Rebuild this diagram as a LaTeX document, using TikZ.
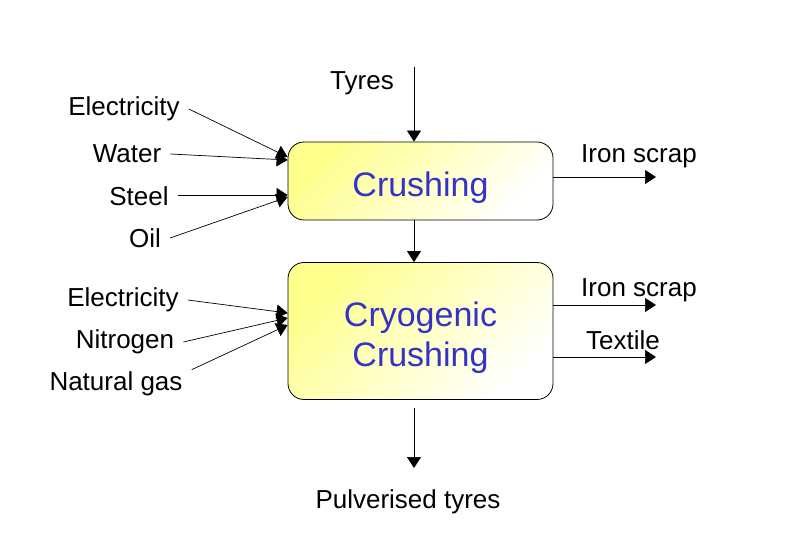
\documentclass[tikz,border=0pt]{standalone}
\usepackage{fontspec}
\setmainfont{Liberation Sans}
\usetikzlibrary{arrows.meta}

\definecolor{boxyellow}{RGB}{255,255,140}
\definecolor{textblue}{RGB}{51,51,204}

\tikzset{
    process/.style={draw, line width=0.8pt, rounded corners=16pt,
        top color=boxyellow, bottom color=white, shading angle=45,
        text=textblue, font=\fontsize{34}{40}\selectfont, align=center,
        minimum width=265pt, inner sep=0pt, text depth=0pt},
    flow/.style={-{Triangle[length=11pt,width=14pt]}, line width=0.7pt},
    lbl/.style={font=\fontsize{26}{30}\selectfont, inner sep=2pt},
    inlbl/.style={lbl, inner xsep=9pt}
}

\begin{document}
\begin{tikzpicture}[x=1pt, y=-1pt]
        \useasboundingbox (0,0) rectangle (785,540);

        \begin{scope}
            % process boxes
            \node[process, minimum height=78pt, text height=31pt] (crush) at (420.5,181) {Crushing};
            \node[process, minimum height=137pt, text height=71pt] (cryo) at (420.5,331) {Cryogenic\\Crushing};

            % labels
            \node[lbl] (tyres) at (362,83) {Tyres};
            \node[inlbl] (elec1) at (124,109) {Electricity};
            \node[inlbl] (water) at (127,154) {Water};
            \node[inlbl] (steel) at (139,196) {Steel};
            \node[inlbl] (oil) at (145,238) {Oil};
            \node[lbl] (iron1) at (639,156) {Iron scrap};

            \node[inlbl] (elec2) at (123,300) {Electricity};
            \node[inlbl] (nitro) at (125,342) {Nitrogen};
            \node[inlbl] (natgas) at (116,384) {Natural gas};
            \node[lbl] (iron2) at (639,290) {Iron scrap};
            \node[lbl] (textile) at (623,340) {Textile};

            \node[lbl] (pulv) at (408,502) {Pulverised tyres};

            % free ends
            \coordinate (tyresin) at (414,67);
            \coordinate (iron1out) at (656,177);
            \coordinate (iron2out) at (656,305);
            \coordinate (textileout) at (656,357);
            \coordinate (pulvout) at (414,468);

            % inputs
            \draw[flow] (elec1.east) -- ([yshift=24pt]crush.west);
            \draw[flow] (water.east) -- ([yshift=21pt]crush.west);
            \draw[flow] (steel.east |- 0,195) -- ([yshift=-14pt]crush.west);
            \draw[flow] (oil.east) -- ([yshift=-16pt]crush.west);
            \draw[flow] (tyresin) -- (tyresin |- crush.north);

            \draw[flow] (elec2.east) -- ([yshift=18pt]cryo.west);
            \draw[flow] (nitro.east) -- ([yshift=13pt]cryo.west);
            \draw[flow] (natgas.north east) -- ([yshift=6pt]cryo.west);

            % outputs
            \draw[flow] (crush.east |- iron1out) -- (iron1out);
            \draw[flow] ([xshift=-6.5pt]crush.south) -- ([xshift=-6.5pt]cryo.north);
            \draw[flow] (cryo.east |- iron2out) -- (iron2out);
            \draw[flow] (cryo.east |- textileout) -- (textileout);
            \draw[flow, shorten <=8pt] ([xshift=-6.5pt]cryo.south) -- (pulvout);
        \end{scope}
    \end{tikzpicture}
\end{document}
